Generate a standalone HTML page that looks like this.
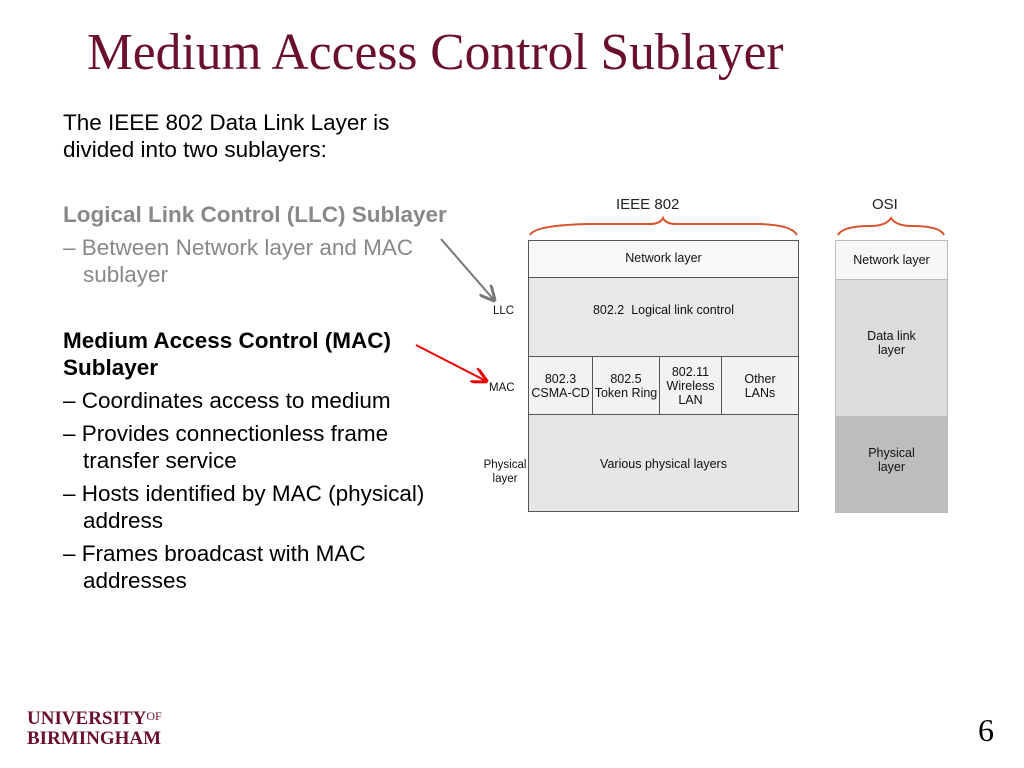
<!DOCTYPE html>
<html><head><meta charset="utf-8"><style>
body{margin:0;width:1024px;height:768px;background:#fff;position:relative;overflow:hidden;font-family:"Liberation Sans",Arial,sans-serif}
.a{position:absolute}
.t{font-size:22.5px;color:#000;line-height:27px;white-space:nowrap}
.d{font-size:12.5px;text-align:center;color:#111;line-height:14px}
.box{position:absolute;border:1px solid #555;box-sizing:border-box;display:flex;align-items:center;justify-content:center}
</style></head><body>
<div class="a" style="left:87px;top:23px;font-family:'Liberation Serif',serif;font-size:51.5px;color:#6b0f2e;white-space:nowrap">Medium Access Control Sublayer</div>
<div class="a t" style="left:63px;top:109px">The IEEE 802 Data Link Layer is<br>divided into two sublayers:</div>
<div class="a t" style="left:63px;top:201px;color:#888;font-weight:bold;font-size:22.5px">Logical Link Control (LLC) Sublayer</div>
<div class="a t" style="left:63px;top:234px;color:#888">– Between Network layer and MAC</div>
<div class="a t" style="left:83px;top:261px;color:#888">sublayer</div>
<div class="a t" style="left:63px;top:327px;font-weight:bold;font-size:22.5px">Medium Access Control (MAC)<br>Sublayer</div>
<div class="a t" style="left:63px;top:387px">– Coordinates access to medium</div>
<div class="a t" style="left:63px;top:420px">– Provides connectionless frame</div>
<div class="a t" style="left:83px;top:447px">transfer service</div>
<div class="a t" style="left:63px;top:480px">– Hosts identified by MAC (physical)</div>
<div class="a t" style="left:83px;top:507px">address</div>
<div class="a t" style="left:63px;top:540px">– Frames broadcast with MAC</div>
<div class="a t" style="left:83px;top:567px">addresses</div>

<svg class="a" style="left:0;top:0" width="1024" height="768">
<defs>
<marker id="g" markerWidth="8" markerHeight="8" refX="7" refY="4" orient="auto"><path d="M0,0 L8,4 L0,8" fill="none" stroke="#777" stroke-width="1.5"/></marker>
<marker id="r" markerWidth="8" markerHeight="8" refX="7" refY="4" orient="auto"><path d="M0,0 L8,4 L0,8" fill="none" stroke="#e00" stroke-width="1.5"/></marker>
</defs>
<line x1="441" y1="239" x2="494" y2="300" stroke="#777" stroke-width="2" marker-end="url(#g)"/>
<line x1="416" y1="345" x2="486" y2="381" stroke="#e00" stroke-width="2" marker-end="url(#r)"/>
<path d="M530,235 Q535,225 590,224 L650,224 Q660,224 663,218 Q666,224 676,224 L760,224 Q792,225 797,235" fill="none" stroke="#d9532b" stroke-width="2"/>
<path d="M838,235 Q843,226 870,226 Q886,226 891,218 Q896,226 912,226 Q940,226 944,235" fill="none" stroke="#d9532b" stroke-width="2"/>
</svg>
<div class="a" style="left:616px;top:196px;font-size:15px;color:#222">IEEE 802</div>
<div class="a" style="left:872px;top:196px;font-size:15px;color:#222">OSI</div>

<div class="box d" style="left:528px;top:240px;width:271px;height:38px;background:#f8f8f8;padding-bottom:2px">Network layer</div>
<div class="box d" style="left:528px;top:277px;width:271px;height:80px;background:#e8e8e8;align-items:flex-start;padding-top:25px">802.2&nbsp; Logical link control</div>
<div class="box d" style="left:528px;top:356px;width:65px;height:59px;background:#f2f2f2">802.3<br>CSMA-CD</div>
<div class="box d" style="left:592px;top:356px;width:68px;height:59px;background:#f2f2f2">802.5<br>Token Ring</div>
<div class="box d" style="left:659px;top:356px;width:63px;height:59px;background:#f2f2f2">802.11<br>Wireless<br>LAN</div>
<div class="box d" style="left:721px;top:356px;width:78px;height:59px;background:#f2f2f2">Other<br>LANs</div>
<div class="box d" style="left:528px;top:414px;width:271px;height:98px;background:#e6e6e6;align-items:flex-start;padding-top:42px">Various physical layers</div>

<div class="box d" style="left:835px;top:240px;width:113px;height:40px;background:#f6f6f6;border-color:#bbb">Network layer</div>
<div class="box d" style="left:835px;top:279px;width:113px;height:138px;background:#dcdcdc;border-color:#bbb;padding-bottom:10px">Data link<br>layer</div>
<div class="box d" style="left:835px;top:416px;width:113px;height:97px;background:#bdbdbd;border-color:#bbb;padding-bottom:10px">Physical<br>layer</div>

<div class="a d" style="left:493px;top:304px;font-size:11.5px">LLC</div>
<div class="a d" style="left:489px;top:381px;font-size:11.5px">MAC</div>
<div class="a d" style="left:479px;top:458px;font-size:11.5px;width:52px">Physical<br>layer</div>

<div class="a" style="left:27px;top:706px;font-family:'Liberation Serif',serif;font-size:19px;font-weight:bold;color:#6b0f2e;line-height:20px;white-space:nowrap">UNIVERSITY<span style="font-size:12px;vertical-align:4px;font-weight:normal">OF</span><br>BIRMINGHAM</div>
<div class="a" style="left:978px;top:712px;font-family:'Liberation Serif',serif;font-size:32px;color:#000">6</div>
</body></html>
